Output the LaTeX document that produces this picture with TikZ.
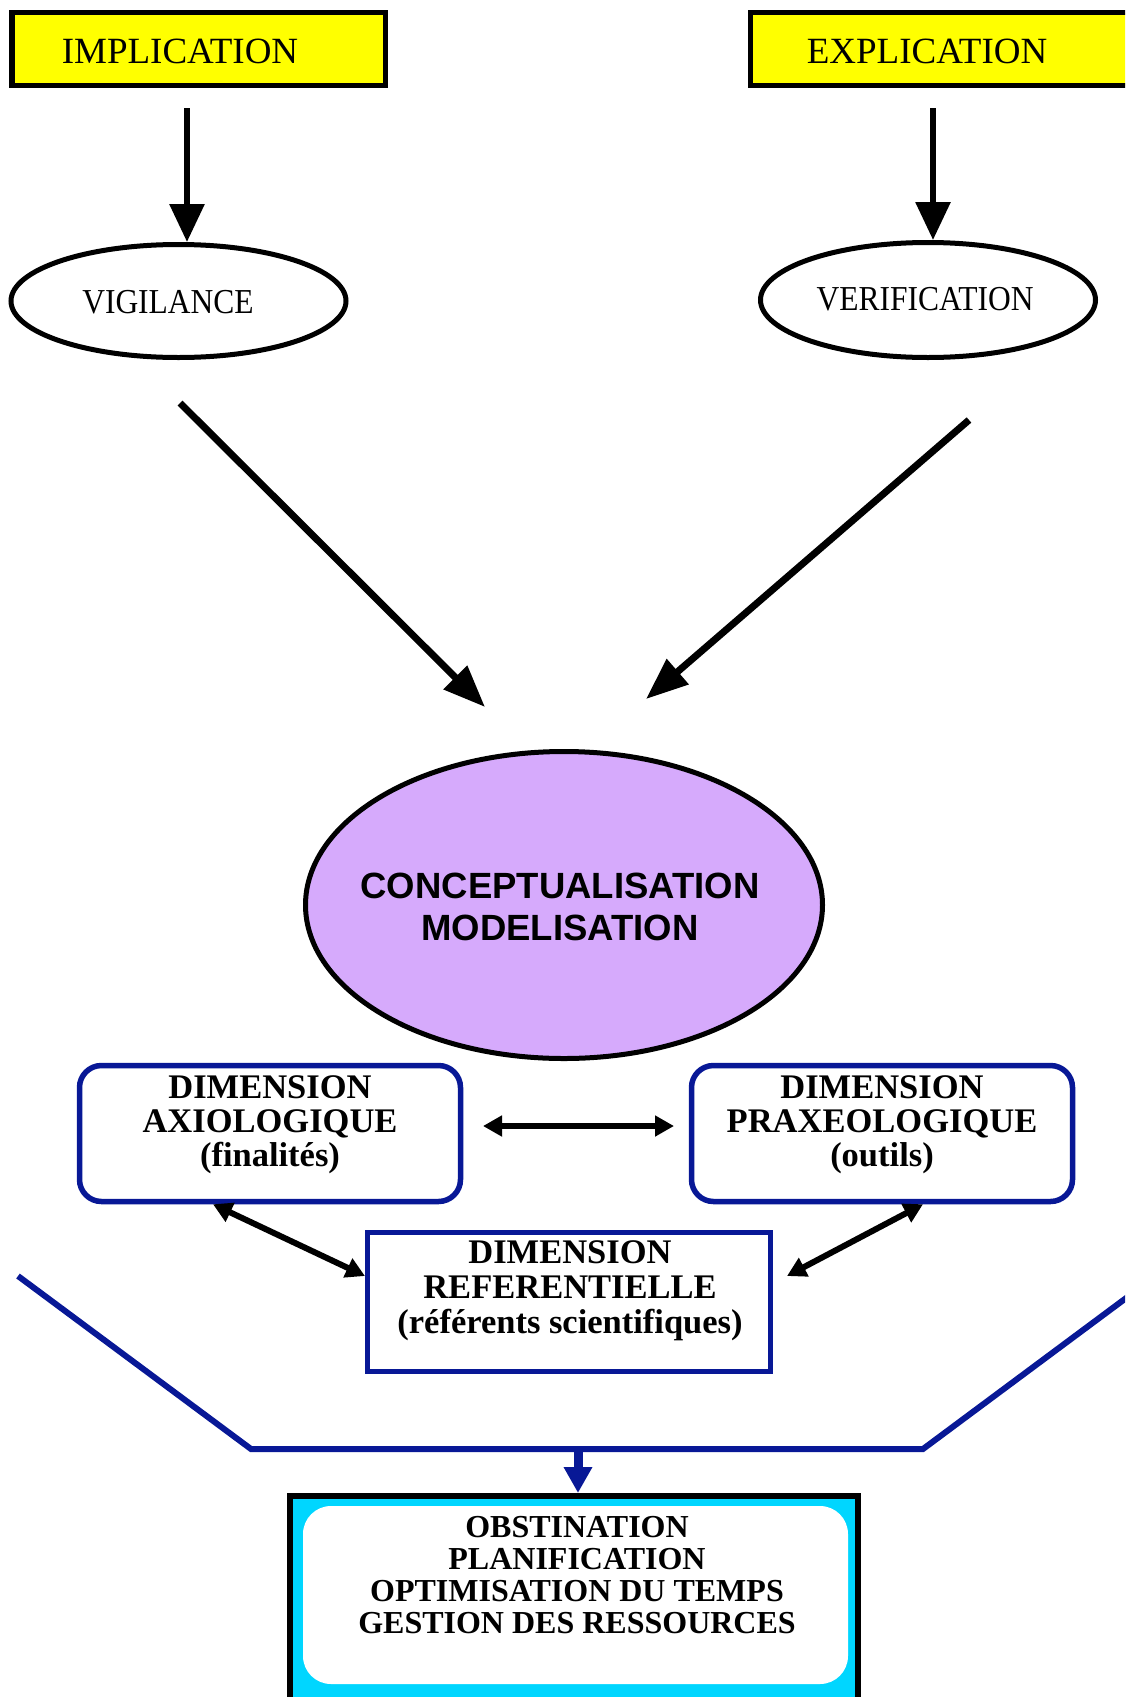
\documentclass[tikz,border=0pt]{standalone}
\usepackage{fontspec}
\setmainfont{Liberation Serif}
\newfontfamily\condserif[FakeStretch=0.9]{Liberation Serif}
\newfontfamily\arialfont{Liberation Sans}
\usetikzlibrary{arrows.meta,shapes.geometric}
\definecolor{ylw}{RGB}{255,255,0}
\definecolor{lav}{RGB}{214,170,252}
\definecolor{cyanfill}{RGB}{0,214,255}
\definecolor{navy}{RGB}{8,24,150}
\newcommand{\stacklines}[1]{\begin{tabular}[t]{@{}c@{}}#1\end{tabular}}
\begin{document}
\begin{tikzpicture}[x=1pt,y=-1pt,
  ybox/.style={draw=black, line width=5.5pt, fill=ylw, rectangle, inner sep=0pt},
  oval/.style={ellipse, draw=black, line width=5pt, fill=white, inner sep=0pt},
  dimbox/.style={draw=navy, line width=5.5pt, fill=white, rectangle, rounded corners=22pt, inner sep=0pt},
  refbox/.style={draw=navy, line width=5pt, fill=white, rectangle, inner sep=0pt},
  toptext/.style={font=\fontsize{37}{40}\selectfont, anchor=base, inner sep=0pt},
  ovaltext/.style={font=\condserif\fontsize{35}{38}\selectfont, anchor=base, inner sep=0pt},
  dimtext/.style={font=\bfseries\fontsize{34.5}{34}\selectfont, anchor=base, inner sep=0pt},
  bigarrow/.style={line width=6pt, -{Triangle[length=38pt,width=34pt]}},
  diagarrow/.style={line width=7pt, -{Triangle[length=42pt,width=32pt]}},
  dblarrow/.style={line width=6pt, {Triangle[length=19pt,width=20pt]}-{Triangle[length=19pt,width=20pt]}},
]
\useasboundingbox (0,0) rectangle (1125,1697);
\clip (0,0) rectangle (1125,1697);

% top boxes
\node[ybox, minimum width=373.5pt, minimum height=73pt] (impl) at (198.5,49) {};
\node[toptext] (impltxt) at (180,63) {IMPLICATION};
\node[ybox, minimum width=450pt, minimum height=73pt] (expl) at (975.5,49) {};
\node[toptext] (expltxt) at (927,63) {EXPLICATION};

% ellipses
\node[oval, minimum width=335pt, minimum height=113pt] (vig) at (178.5,301) {};
\node[ovaltext] (vigtxt) at (168,313) {VIGILANCE};
\node[oval, minimum width=335pt, minimum height=115pt] (ver) at (928,300) {};
\node[ovaltext] (vertxt) at (925,310) {VERIFICATION};

\node[oval, fill=lav, minimum width=517pt, minimum height=307pt] (concept) at (564,905) {};
\node[font=\arialfont\bfseries\fontsize{36.5}{42}\selectfont, anchor=base, inner sep=0pt] (concepttxt) at (560,898) {\stacklines{CONCEPTUALISATION\\MODELISATION}};

% dimension boxes
\node[dimbox, minimum width=381pt, minimum height=136pt] (axio) at (270,1133.5) {};
\node[dimtext] (axiotxt) at (270,1098) {\stacklines{DIMENSION\\AXIOLOGIQUE\\(finalités)}};
\node[dimbox, minimum width=381pt, minimum height=136pt] (praxeo) at (882,1133.5) {};
\node[dimtext] (praxeotxt) at (882,1098) {\stacklines{DIMENSION\\PRAXEOLOGIQUE\\(outils)}};
\node[refbox, minimum width=403pt, minimum height=139pt] (ref) at (569,1302) {};
\node[dimtext, font=\bfseries\fontsize{34.5}{35}\selectfont] (reftxt) at (570,1263) {\stacklines{DIMENSION\\REFERENTIELLE\\(référents scientifiques)}};

% bottom box
\node[rectangle, draw=black, line width=6pt, fill=cyanfill, minimum width=568pt, minimum height=250pt, anchor=north, inner sep=0pt] (final) at (574,1493) {};
\node[rectangle, fill=white, rounded corners=28pt, minimum width=545pt, minimum height=178pt, inner sep=0pt] (inner) at (575.5,1595) {};
\node[font=\bfseries\fontsize{32}{32}\selectfont, anchor=base, inner sep=0pt] (finaltxt) at (577,1537) {\stacklines{OBSTINATION\\PLANIFICATION\\OPTIMISATION DU TEMPS\\GESTION DES RESSOURCES}};

% vertical arrows
\coordinate (c1) at (187,0);
\coordinate (c2) at (933,0);
\draw[bigarrow, shorten <=20pt] (impl.south -| c1) -- (vig.north -| c1);
\draw[bigarrow, shorten <=20pt] (expl.south -| c2) -- (ver.north -| c2);

% diagonal arrows
\coordinate (d1a) at (180,403);
\coordinate (d1b) at (485,707);
\coordinate (d2a) at (969,420);
\coordinate (d2b) at (646,699);
\draw[diagarrow] (d1a) -- (d1b);
\draw[diagarrow] (d2a) -- (d2b);

% double arrows
\coordinate (h1) at (483,1126);
\coordinate (h2) at (674,1126);
\draw[dblarrow] (h1) -- (h2);
\coordinate (e1) at (213,0);
\coordinate (e2) at (0,1276);
\draw[dblarrow] (axio.south -| e1) -- (ref.west |- e2);
\coordinate (f1) at (923,0);
\coordinate (g2) at (787,1276);
\draw[dblarrow] (praxeo.south -| f1) -- (g2);

% funnel
\coordinate (fl1) at (18,1276);
\coordinate (fl2) at (251,1449);
\coordinate (fl3) at (923,1449);
\coordinate (fl4) at (1145,1284);
\draw[navy, line width=6pt] (fl1) -- (fl2) -- (fl3) -- (fl4);
\coordinate (ba) at (578,1449);
\draw[navy, line width=9pt, -{Triangle[length=26pt,width=27pt]}] (ba) -- (final.north -| ba);
\end{tikzpicture}
\end{document}
